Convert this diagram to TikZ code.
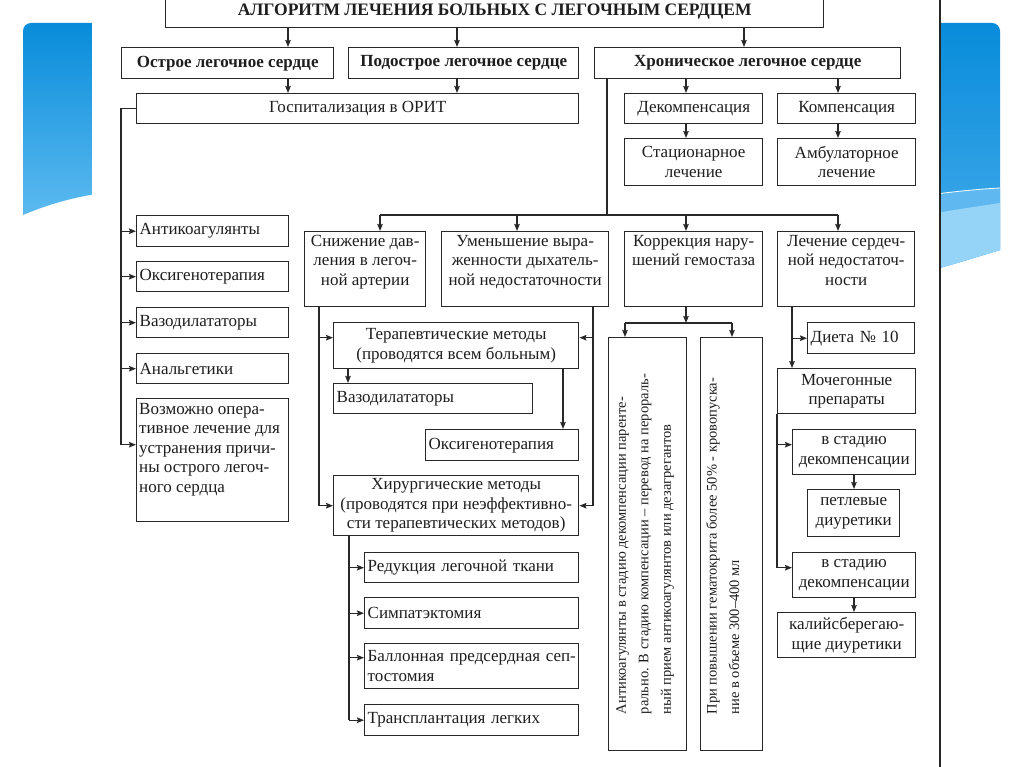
\documentclass[tikz,border=0pt]{standalone}
\usepackage{fontspec}
\setmainfont{Liberation Serif}
\usetikzlibrary{arrows.meta}
\newcommand\dfont{\fontsize{17}{19.5}\selectfont}
\newcommand\vfont{\fontsize{14.5}{22.5}\selectfont}
\newcommand\tfont{\fontsize{17.5}{20}\selectfont\bfseries}
\definecolor{tc}{RGB}{30,30,30}
\definecolor{lc}{RGB}{40,40,40}
\definecolor{blueA}{RGB}{8,140,218}
\definecolor{blueB}{RGB}{92,186,240}
\definecolor{blueC}{RGB}{70,172,235}
\definecolor{blueD}{RGB}{95,185,240}
\definecolor{blueE}{RGB}{150,212,247}
\newcommand\bx[7]{%
  \pgfmathsetmacro\bxw{#4-(#2)}%
  \pgfmathsetmacro\bxh{#5-(#3)}%
  \pgfmathsetmacro\bxt{#4-(#2)-6}%
  \node[box, minimum width=\bxw pt, minimum height=\bxh pt, anchor=north west, #6] (#1) at (#2,#3) {#7};}
\begin{document}
\begin{tikzpicture}[x=1pt,y=-1pt,
  box/.style={draw=lc, line width=1.4pt, inner xsep=3pt, inner ysep=1pt, font=\dfont, text=tc},
  lt/.style={align=left, text width=\bxt pt},
  ct/.style={align=center},
  txt/.style={inner sep=3pt, font=\dfont, text=tc},
  vtxt/.style={inner sep=3pt, font=\vfont, text=tc, align=left, rotate=90},
  ln/.style={line width=1.3pt, draw=lc},
  arr/.style={line width=1.3pt, draw=lc, -{Stealth[length=7pt,width=5.5pt,inset=1pt]}}]
\useasboundingbox (0,0) rectangle (1024,767);
\clip (0,0) rectangle (1024,767);
\fill[white] (0,0) rectangle (1024,767);
% slide decoration
\shade[top color=blueA, bottom color=blueB] (23,215) -- (23,31) arc[start angle=180,end angle=270,radius=8] -- (96,23) -- (96,194) .. controls (65,199) and (42,207) .. (23,215) -- cycle;
\shade[top color=blueA, bottom color=blueC] (936,269) -- (936,23) -- (992,23) arc[start angle=270,end angle=360,radius=8] -- (1000,250) .. controls (980,256) and (958,263) .. (936,269) -- cycle;
\fill[blueD] (936,194) .. controls (960,191) and (980,189) .. (1000,188) -- (1000,250) .. controls (980,256) and (958,263) .. (936,269) -- cycle;
\fill[blueE] (936,213) .. controls (960,209) and (980,206) .. (1000,203) -- (1000,250) .. controls (980,256) and (958,263) .. (936,269) -- cycle;
\draw[white, line width=0.8pt] (936,194) .. controls (960,191) and (980,189) .. (1000,188);
\fill[white] (92,0) rectangle (940,767);
\draw[line width=1.5pt, black!85] (940,0) -- (940,767);
% boxes
\bx{title}{165}{-5}{823}{27}{font=\tfont}{АЛГОРИТМ ЛЕЧЕНИЯ БОЛЬНЫХ С ЛЕГОЧНЫМ СЕРДЦЕМ}
\bx{acute}{121}{47}{333}{78}{font=\dfont\bfseries}{Острое легочное сердце}
\bx{subac}{348}{47}{578}{78}{font=\dfont\bfseries}{Подострое легочное сердце}
\bx{chron}{594}{47}{900}{78}{font=\dfont\bfseries}{Хроническое легочное сердце}
\bx{hosp}{136}{93}{578}{123}{}{Госпитализация в ОРИТ}
\bx{decomp}{624}{93}{762}{123}{}{Декомпенсация}
\bx{comp}{777}{93}{915}{123}{}{Компенсация}
\bx{stat}{624}{138}{762}{185}{ct}{Стационарное\\лечение}
\bx{ambu}{777}{138}{915}{185}{ct}{Амбулаторное\\лечение}
\bx{anti}{136}{215}{288}{246}{lt}{Антикоагулянты}
\bx{oxy}{136}{261}{288}{291}{lt}{Оксигенотерапия}
\bx{vaso}{136}{307}{288}{337}{lt}{Вазодилататоры}
\bx{anal}{136}{353}{288}{383}{lt}{Анальгетики}
\bx{vozm}{136}{398}{288}{521}{}{}
\node[txt, anchor=north west, align=left] (vozmt) at ([yshift=-2pt]vozm.north west) {Возможно опера-\\тивное лечение для\\устранения причи-\\ны острого легоч-\\ного сердца};
\bx{snizh}{304}{231}{425}{306}{}{}
\node[txt, anchor=north, align=center] (snizht) at ([yshift=-1pt]snizh.north) {Снижение дав-\\ления в легоч-\\ной артерии};
\bx{umen}{441}{231}{608}{306}{}{}
\node[txt, anchor=north, align=center] (ument) at ([yshift=-1pt]umen.north) {Уменьшение выра-\\женности дыхатель-\\ной недостаточности};
\bx{korr}{624}{231}{762}{306}{}{}
\node[txt, anchor=north, align=center] (korrt) at ([yshift=-1pt]korr.north) {Коррекция нару-\\шений гемостаза};
\bx{lech}{777}{231}{914}{306}{}{}
\node[txt, anchor=north, align=center] (lecht) at ([yshift=-1pt]lech.north) {Лечение сердеч-\\ной недостаточ-\\ности};
\bx{ter}{333}{322}{578}{368}{ct}{Терапевтические методы\\(проводятся всем больным)}
\bx{vaso2}{333}{383}{532}{413}{lt}{Вазодилататоры}
\bx{oxy2}{425}{429}{578}{460}{lt}{Оксигенотерапия}
\bx{hir}{333}{475}{578}{535}{ct}{Хирургические методы\\(проводятся при неэффективно-\\сти терапевтических методов)}
\bx{red}{364}{552}{578}{582}{lt}{Редукция легочной ткани}
\bx{symp}{364}{597}{578}{628}{lt}{Симпатэктомия}
\bx{ball}{364}{643}{578}{688}{lt}{\mbox{Баллонная предсердная сеп-}\\тостомия}
\bx{trans}{364}{704}{578}{735}{lt}{Трансплантация легких}
\bx{v1}{608}{337}{686}{750}{}{}
\node[vtxt, anchor=north west] (v1t) at ([xshift=5pt,yshift=34pt]v1.south west) {Антикоагулянты в стадию декомпенсации паренте-\\рально. В стадию компенсации – перевод на перораль-\\ный прием антикоагулянтов или дезагрегантов};
\bx{v2}{700}{337}{762}{750}{}{}
\node[vtxt, anchor=north west] (v2t) at ([xshift=3pt,yshift=34pt]v2.south west) {При повышении гематокрита более 50\% - кровопуска-\\ние в объеме 300–400 мл};
\bx{diet}{807}{322}{914}{353}{lt}{Диета № 10}
\bx{moch}{777}{368}{915}{413}{ct}{Мочегонные\\препараты}
\bx{st1}{792}{429}{915}{474}{ct}{в стадию\\декомпенсации}
\bx{petl}{807}{489}{899}{536}{ct}{петлевые\\диуретики}
\bx{st2}{792}{552}{915}{597}{ct}{в стадию\\декомпенсации}
\bx{kal}{777}{612}{915}{657}{ct}{калийсберегаю-\\щие диуретики}
% connectors
\coordinate (xa) at (288,0);
\coordinate (xb) at (457,0);
\coordinate (xc) at (744,0);
\coordinate (xd) at (686,0);
\coordinate (xe) at (838,0);
\draw[arr] (title.south -| xa) -- (acute.north -| xa);
\draw[arr] (title.south -| xb) -- (subac.north -| xb);
\draw[arr] (title.south -| xc) -- (chron.north -| xc);
\draw[arr] (acute.south -| xa) -- (hosp.north -| xa);
\draw[arr] (subac.south -| xb) -- (hosp.north -| xb);
\draw[arr] (chron.south -| xd) -- (decomp.north -| xd);
\draw[arr] (chron.south -| xe) -- (comp.north -| xe);
\draw[arr] (decomp.south -| xd) -- (stat.north -| xd);
\draw[arr] (comp.south -| xe) -- (ambu.north -| xe);
% left bus
\coordinate (lb) at (121,0);
\coordinate (vz) at ([yshift=15.5pt]vozm.west);
\draw[ln] (hosp.west) -- (hosp.west -| lb) -- (lb |- vz);
\foreach \n in {anti,oxy,vaso,anal} \draw[arr] (lb |- \n.west) -- (\n.west);
\draw[arr] (lb |- vz) -- (vz);
% chronic bus
\coordinate (cb) at (607,0);
\coordinate (k1) at (380,215);
\coordinate (k2) at (517,215);
\coordinate (k3) at (686,215);
\coordinate (k4) at (838,215);
\draw[ln] (chron.south -| cb) -- (cb |- k1);
\draw[ln] (k1) -- (k4);
\draw[arr] (k1) -- (k1 |- snizh.north);
\draw[arr] (k2) -- (k2 |- umen.north);
\draw[arr] (k3) -- (k3 |- korr.north);
\draw[arr] (k4) -- (k4 |- lech.north);
% Snizhenie / Umenshenie buses
\coordinate (sb) at (319,0);
\coordinate (ub) at (593,0);
\coordinate (tA) at ([yshift=8pt]ter.west);
\coordinate (tB) at ([yshift=8pt]ter.east);
\draw[ln] (snizh.south -| sb) -- (sb |- hir.west);
\draw[arr] (sb |- tA) -- (tA);
\draw[arr] (sb |- hir.west) -- (hir.west);
\draw[ln] (umen.south -| ub) -- (ub |- hir.east);
\draw[arr] (ub |- tB) -- (tB);
\draw[arr] (ub |- hir.east) -- (hir.east);
\coordinate (x348) at (348,0);
\coordinate (x563) at (563,0);
\draw[arr] (ter.south -| x348) -- (vaso2.north -| x348);
\draw[arr] (ter.south -| x563) -- (oxy2.north -| x563);
% surgical bus
\coordinate (hb) at (349,0);
\coordinate (bl) at ([yshift=8.5pt]ball.west);
\draw[ln] (hir.south -| hb) -- (hb |- trans.west);
\foreach \n in {red,symp,trans} \draw[arr] (hb |- \n.west) -- (\n.west);
\draw[arr] (hb |- bl) -- (bl);
% korrekciya
\coordinate (q0) at (686,323);
\coordinate (q1) at (625,323);
\coordinate (q2) at (732,323);
\draw[arr] (korr.south -| q0) -- (q0);
\draw[ln] (q1) -- (q2);
\draw[arr] (q1) -- (q1 |- v1.north);
\draw[arr] (q2) -- (q2 |- v2.north);
% lechenie
\coordinate (lb2) at (792,0);
\draw[arr] (lech.south -| lb2) -- (moch.north -| lb2);
\draw[arr] (lb2 |- diet.west) -- (diet.west);
\coordinate (s1) at ([yshift=7.5pt]st1.west);
\coordinate (s2) at ([yshift=7.5pt]st2.west);
\draw[ln] (moch.south west) -- (moch.south west |- s2);
\draw[arr] (moch.south west |- s1) -- (s1);
\draw[arr] (moch.south west |- s2) -- (s2);
\coordinate (x854) at (854,0);
\draw[arr] (st1.south -| x854) -- (petl.north -| x854);
\draw[arr] (st2.south -| x854) -- (kal.north -| x854);
\end{tikzpicture}
\end{document}
